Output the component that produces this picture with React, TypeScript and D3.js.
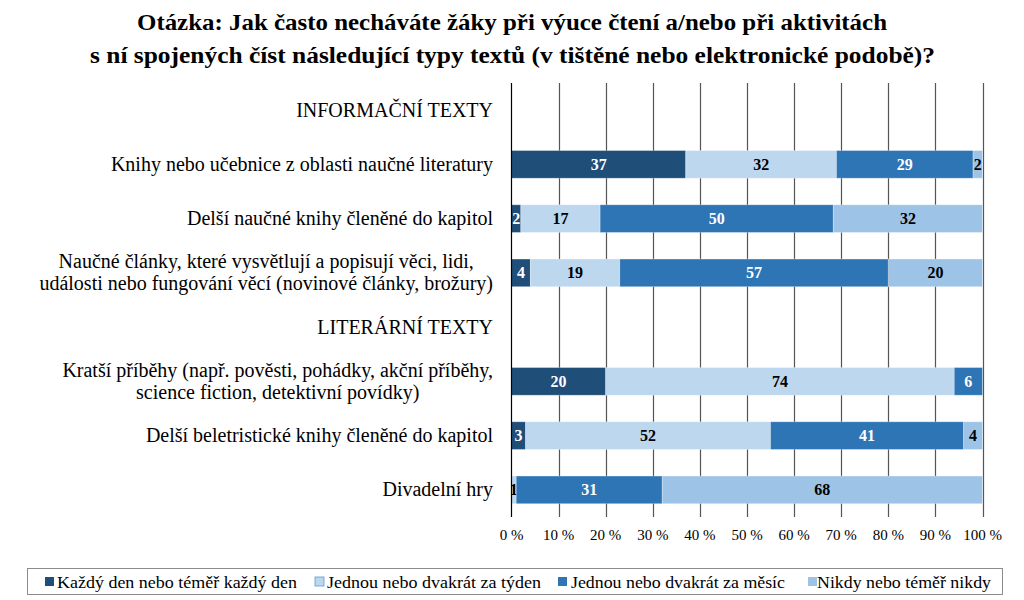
import React, { useEffect, useRef } from "react";
import * as d3 from "d3";

const titleLines = [
  "Otázka: Jak často necháváte žáky při výuce čtení a/nebo při aktivitách",
  "s ní spojených číst následující typy textů (v tištěné nebo elektronické podobě)?",
];

const categories = [
  "INFORMAČNÍ TEXTY",
  "Knihy nebo učebnice z oblasti naučné literatury",
  "Delší naučné knihy členěné do kapitol",
  "Naučné články, které vysvětlují a popisují věci, lidi,|události nebo fungování věcí (novinové články, brožury)",
  "LITERÁRNÍ TEXTY",
  "Kratší příběhy (např. pověsti, pohádky, akční příběhy,|science fiction, detektivní povídky)",
  "Delší beletristické knihy členěné do kapitol",
  "Divadelní hry",
];

const seriesNames = [
  "Každý den nebo téměř každý den",
  "Jednou nebo dvakrát za týden",
  "Jednou nebo dvakrát za měsíc",
  "Nikdy nebo téměř nikdy",
];

const dailyValues = [0, 37, 2, 4, 0, 20, 3, 0];
const weeklyValues = [0, 32, 17, 19, 0, 74, 52, 1];
const monthlyValues = [0, 29, 50, 57, 0, 6, 41, 31];
const neverValues = [0, 2, 32, 20, 0, 0, 4, 68];

const headerRows = [0, 4];

const xTicks = [0, 0.1, 0.2, 0.3, 0.4, 0.5, 0.6, 0.7, 0.8, 0.9, 1];

const colors = ["#1F4E79", "#BDD7EE", "#2E75B6", "#9DC3E6"];
const labelColors = ["#ffffff", "#000000", "#ffffff", "#000000"];

export default function App() {
  const ref = useRef<SVGSVGElement | null>(null);

  useEffect(() => {
    const svg = d3.select(ref.current);
    svg.selectAll("*").remove();
    const W = 1024, H = 600;
    const serif = "'Liberation Serif', 'Times New Roman', serif";

    svg.append("rect").attr("width", W).attr("height", H).attr("fill", "#fff");

    // title
    const titleGeom = [
      { x0: 137, x1: 887, y: 30 },
      { x0: 90, x1: 935, y: 63 },
    ];
    titleLines.forEach((t, i) => {
      const g = titleGeom[i];
      svg.append("text")
        .attr("x", g.x0)
        .attr("y", g.y)
        .attr("font-family", serif)
        .attr("font-weight", "bold")
        .attr("font-size", 23)
        .attr("textLength", g.x1 - g.x0)
        .attr("lengthAdjust", "spacingAndGlyphs")
        .text(t);
    });

    const x = d3.scaleLinear().domain([0, 1]).range([511.5, 982.5]);
    const y = d3.scaleBand<string>()
      .domain(categories)
      .range([83, 517])
      .paddingInner(0.49)
      .paddingOuter(0.245);

    // gridlines
    svg.append("g").selectAll("line").data(xTicks.slice(1)).join("line")
      .attr("x1", (d) => Math.round(x(d)) + 0.5)
      .attr("x2", (d) => Math.round(x(d)) + 0.5)
      .attr("y1", 83).attr("y2", 517)
      .attr("stroke", "#555").attr("stroke-width", 1.2);

    // data table
    const rows = categories.map((c, i) => ({
      cat: c,
      s0: dailyValues[i],
      s1: weeklyValues[i],
      s2: monthlyValues[i],
      s3: neverValues[i],
    }));
    const keys = ["s0", "s1", "s2", "s3"];
    const dataRows = rows.filter((_, i) => !headerRows.includes(i));
    const stack = d3.stack<any>().keys(keys).offset(d3.stackOffsetExpand);
    const stacked = stack(dataRows);

    stacked.forEach((layer, si) => {
      const g = svg.append("g");
      g.selectAll("rect").data(layer).join("rect")
        .attr("x", (d) => x(d[0]))
        .attr("width", (d) => Math.max(0, x(d[1]) - x(d[0])))
        .attr("y", (d) => y(d.data.cat)!)
        .attr("height", y.bandwidth())
        .attr("fill", colors[si])
        .attr("stroke", (d) => (d[1] - d[0] > 0 ? "#ffffff" : "none"))
        .attr("stroke-opacity", 0.35)
        .attr("stroke-width", 0.8);
      g.selectAll("text").data(layer.filter((d) => (d.data as any)[keys[si]] > 0)).join("text")
        .attr("x", (d) => (x(d[0]) + x(d[1])) / 2)
        .attr("y", (d) => y(d.data.cat)! + y.bandwidth() / 2 + 5.5)
        .attr("text-anchor", "middle")
        .attr("font-family", serif)
        .attr("font-weight", "bold")
        .attr("font-size", 16)
        .attr("fill", labelColors[si])
        .text((d) => String((d.data as any)[keys[si]]));
    });

    // left axis line
    svg.append("line")
      .attr("x1", 511.5).attr("x2", 511.5).attr("y1", 83).attr("y2", 517)
      .attr("stroke", "#000").attr("stroke-width", 1.2);

    // x tick labels
    svg.append("g").selectAll("text").data(xTicks).join("text")
      .attr("x", (d) => x(d))
      .attr("y", 540)
      .attr("text-anchor", "middle")
      .attr("font-family", serif)
      .attr("font-size", 15)
      .attr("fill", "#000")
      .text((d) => `${Math.round(d * 100)} %`);

    // category labels
    const rightEdge = 493;
    categories.forEach((c) => {
      const lines = c.split("|");
      const cy = y(c)! + y.bandwidth() / 2;
      const lh = 22;
      const texts = lines.map((ln, li) =>
        svg.append("text")
          .attr("x", rightEdge)
          .attr("y", cy + (li - (lines.length - 1) / 2) * lh + 6.5)
          .attr("text-anchor", "end")
          .attr("font-family", serif)
          .attr("font-size", 20)
          .attr("fill", "#000")
          .text(ln)
      );
      if (lines.length > 1) {
        const widths = texts.map((t) => (t.node() as SVGTextElement).getComputedTextLength());
        const maxW = Math.max(...widths);
        const center = rightEdge - maxW / 2;
        texts.forEach((t) => t.attr("x", center).attr("text-anchor", "middle"));
      }
    });

    // legend
    svg.append("rect")
      .attr("x", 27.5).attr("y", 568.5).attr("width", 975).attr("height", 26)
      .attr("fill", "#fff").attr("stroke", "#8c8c8c").attr("stroke-width", 1);
    const legendGeom = [
      { sq: 45, t0: 57, t1: 297 },
      { sq: 315, t0: 327, t1: 541 },
      { sq: 558, t0: 571, t1: 785 },
      { sq: 808, t0: 817, t1: 991 },
    ];
    seriesNames.forEach((n, i) => {
      const g = legendGeom[i];
      svg.append("rect")
        .attr("x", g.sq).attr("y", 577).attr("width", 9).attr("height", 9)
        .attr("fill", colors[i])
        .attr("stroke", i === 1 ? "#5B9BD5" : "none")
        .attr("stroke-width", 0.8);
      svg.append("text")
        .attr("x", g.t0).attr("y", 587.5)
        .attr("font-family", serif)
        .attr("font-size", 17)
        .attr("textLength", g.t1 - g.t0)
        .attr("lengthAdjust", "spacingAndGlyphs")
        .attr("fill", "#000")
        .text(n);
    });
  }, []);

  return (
    <svg ref={ref} width={1024} height={600} style={{ display: "block", position: "absolute", left: 0, top: 0 }} />
  );
}
